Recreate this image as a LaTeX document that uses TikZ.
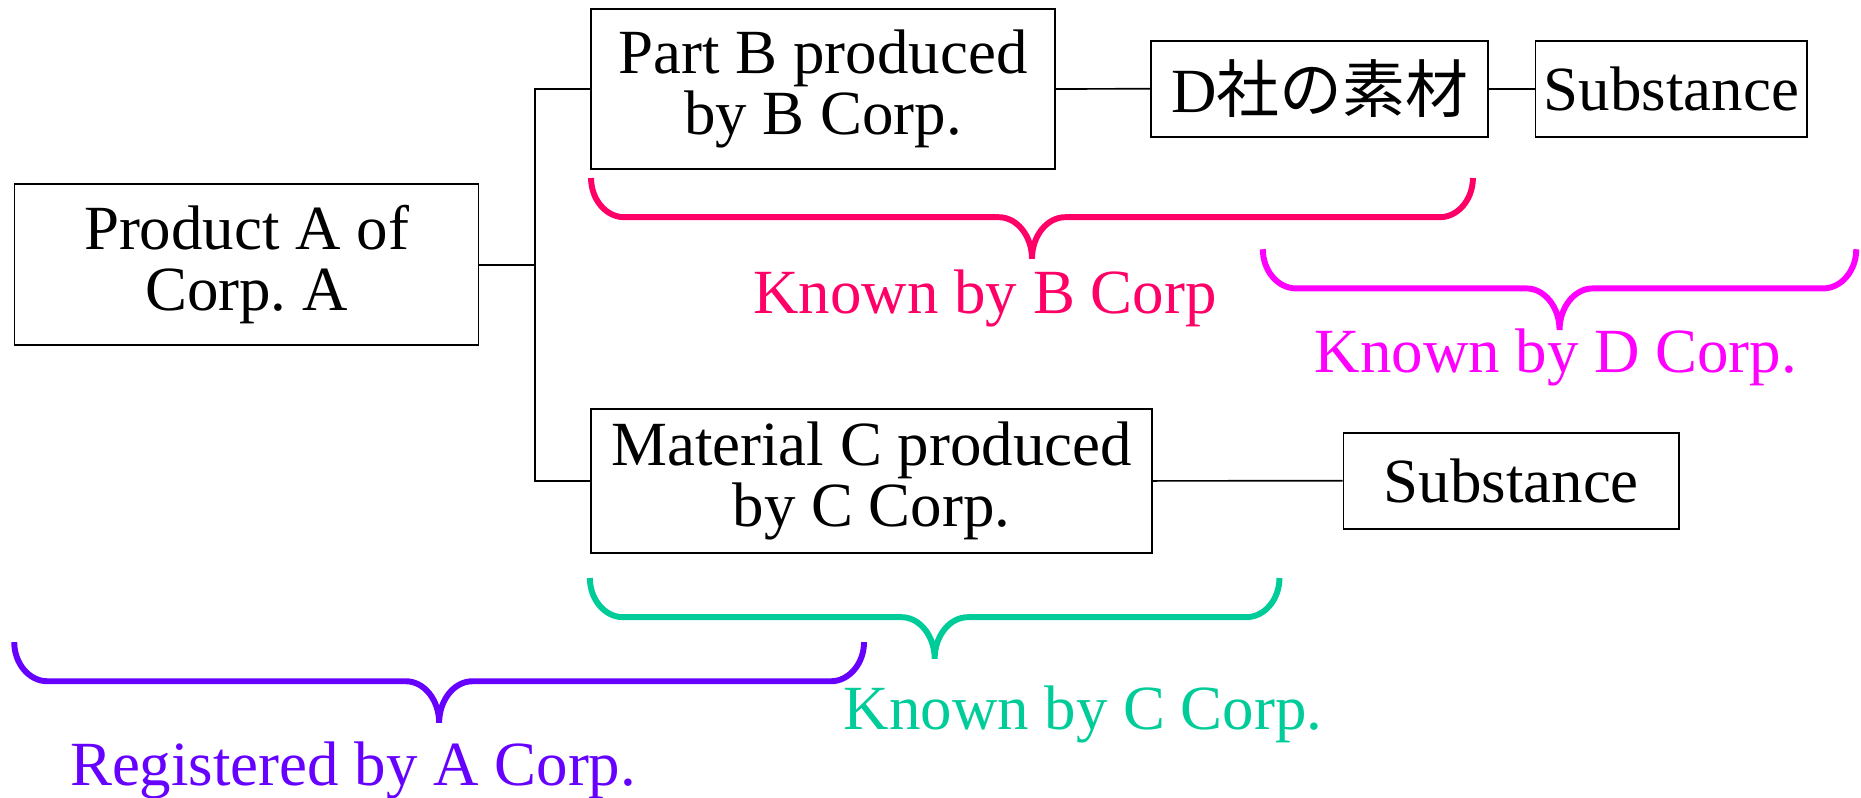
\documentclass[tikz,border=0pt]{standalone}
\usepackage{fontspec}
\setmainfont{Liberation Serif}
\newfontfamily\jpfont{Noto Sans CJK JP}
\definecolor{bpink}{RGB}{255,0,102}
\definecolor{dmagenta}{RGB}{255,0,255}
\definecolor{cgreen}{RGB}{0,204,153}
\definecolor{apurple}{RGB}{102,0,255}
\frenchspacing
\begin{document}
\begin{tikzpicture}[x=1pt, y=-1pt,
    font=\fontsize{53}{52}\selectfont,
    box/.style={draw, line width=1.5pt, inner sep=0pt, align=center},
    link/.style={line width=1.4pt},
    brace/.style={line width=5pt}]
    \useasboundingbox (0,0) rectangle (1568,672);

    \node[box, minimum width=391pt, minimum height=136pt] (pa) at (207.7,223) {Product A of\\Corp. A};
    \node[box, minimum width=391pt, minimum height=135pt] (pb) at (693.5,75) {Part B produced\\by B Corp.};
    \node[box, minimum width=284pt, minimum height=81pt] (dm) at (1112,74.75) {D{\jpfont 社の素材}};
    \node[box, minimum width=229pt, minimum height=81pt] (s1) at (1408.3,74.75) {Substance};
    \node[box, minimum width=472.6pt, minimum height=121pt] (mc) at (734.3,405.2) {Material C produced\\by C Corp.};
    \node[box, minimum width=283pt, minimum height=81pt] (s2) at (1273.4,405) {Substance};

    \coordinate (fork) at (450.8,223);
    \draw[link] (pa.east) -- (fork);
    \draw[link] (pb.west) -| (fork) |- (mc.west);
    \draw[link] (pb.east) -- (dm.west);
    \draw[link] (dm.east) -- (s1.west);
    \draw[link] (mc.east) -- (s2.west);

    % braces
    \foreach \col/\xa/\xb/\yt in {bpink/498/1241/150, dmagenta/1064/1564/210,
                                  cgreen/497/1078/487, apurple/12/728/541} {
        \pgfmathsetmacro\xm{(\xa+\xb)/2}
        \draw[brace, \col] (\xa,\yt) .. controls (\xa,\yt+18) and (\xa+12.5,\yt+33) .. (\xa+28,\yt+33)
            -- (\xm-28,\yt+33) .. controls (\xm-12.5,\yt+33) and (\xm,\yt+49) .. (\xm,\yt+68)
            .. controls (\xm,\yt+49) and (\xm+12.5,\yt+33) .. (\xm+28,\yt+33)
            -- (\xb-28,\yt+33) .. controls (\xb-12.5,\yt+33) and (\xb,\yt+18) .. (\xb,\yt);
    }

    \node[text=bpink, anchor=base] (kb) at (830,264) {Known by B Corp};
    \node[text=dmagenta, anchor=base] (kd) at (1311,314) {Known by D Corp.};
    \node[text=cgreen, anchor=base] (kc) at (912.6,615) {Known by C Corp.};
    \node[text=apurple, anchor=base] (ra) at (297.5,662) {Registered by A Corp.};
\end{tikzpicture}
\end{document}
